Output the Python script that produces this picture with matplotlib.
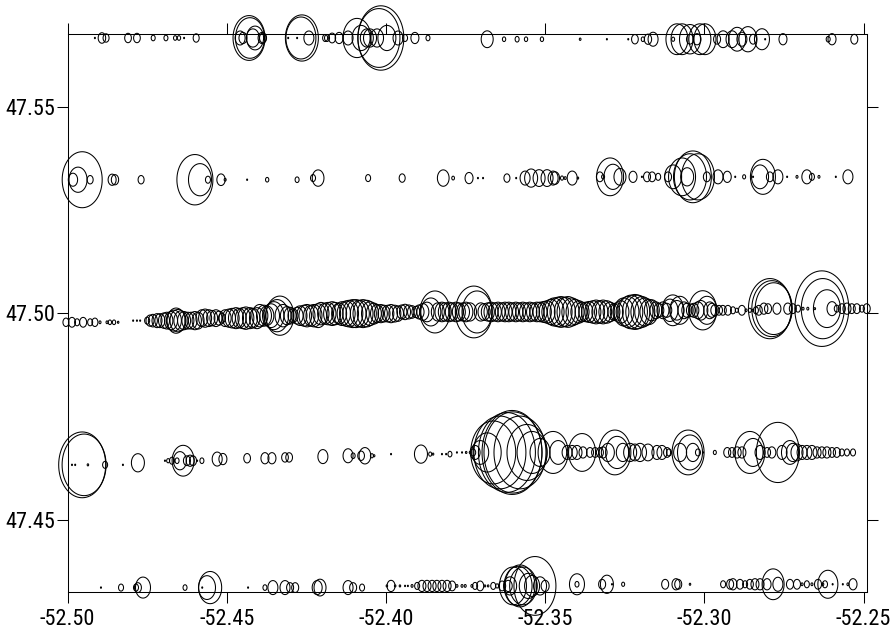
import numpy as np
import matplotlib
matplotlib.use("Agg")
import matplotlib.pyplot as plt
from matplotlib.path import Path
from matplotlib import font_manager

# ---- survey transects: position (lon, lat) and catch index per station ----
t1_lon = [-52.4914, -52.4892, -52.4879, -52.4810, -52.4782, -52.4731, -52.4691, -52.4662, -52.4650, -52.4634,
          -52.4596, -52.4458, -52.4449, -52.4430, -52.4427, -52.4418, -52.4411, -52.4389, -52.4386, -52.4307,
          -52.4279, -52.4264, -52.4267, -52.4242, -52.4191, -52.4185, -52.4169, -52.4147, -52.4119, -52.4091,
          -52.4078, -52.4060, -52.4050, -52.4028, -52.4022, -52.4016, -52.3997, -52.3962, -52.3940, -52.3909,
          -52.3868, -52.3682, -52.3629, -52.3588, -52.3560, -52.3510, -52.3390, -52.3306, -52.3239,
          -52.3218, -52.3193, -52.3177, -52.3161, -52.3098, -52.3086, -52.3070, -52.3045, -52.3045, -52.3023,
          -52.3014, -52.2998, -52.2960, -52.2941, -52.2913, -52.2897, -52.2882, -52.2863, -52.2847, -52.2819,
          -52.2809, -52.2753, -52.2611, -52.2599, -52.2529]
t1_lat = [47.5666] * 41 + [47.5663] * 33
t1_val = [1, 7.5, 6, 6.7, 6.7, 4, 4, 3.3, 3.3, 1,
          6, 10, 8, 32, 29, 13, 17, 8, 7, 1,
          1, 33, 30, 10, 5, 5, 7, 8, 10, 28,
          18, 13, 13, 13, 42, 46, 18, 10, 5, 8,
          4, 12, 3.3, 4, 3.3, 3.3, 1.7, 1, 1,
          6.7, 3.3, 7.3, 10, 3, 22, 22, 21, 7, 8,
          22, 22, 7, 12, 12, 17, 10, 18, 7, 15,
          1, 8, 4, 8, 7]

t2_lon = [-52.4983, -52.4967, -52.4954, -52.4929, -52.4860, -52.4851, -52.4769, -52.4600, -52.4584, -52.4559,
          -52.4518, -52.4505, -52.4436, -52.4373, -52.4279, -52.4229, -52.4213, -52.4056, -52.3949, -52.3820,
          -52.3789, -52.3739, -52.3711, -52.3695, -52.3620, -52.3591, -52.3563, -52.3544, -52.3519, -52.3494,
          -52.3475, -52.3469, -52.3447, -52.3437, -52.3415, -52.3397, -52.3328, -52.3318, -52.3296, -52.3287,
          -52.3265, -52.3224, -52.3196, -52.3180, -52.3164, -52.3145, -52.3114, -52.3098, -52.3070, -52.3054,
          -52.3045, -52.3036, -52.3020, -52.2992, -52.2957, -52.2928, -52.2903, -52.2875, -52.2847, -52.2825,
          -52.2816, -52.2794, -52.2769, -52.2740, -52.2709, -52.2678, -52.2662, -52.2640, -52.2587, -52.2549]
t2_lat = [47.5323] * 15 + [47.5327] * 21 + [47.5330] * 34
t2_val = [9.3, 18, 40, 6, 8, 7.3, 6, 36, 23, 5,
          8.3, 2, 1, 3.3, 4, 5, 11.7, 5, 6, 11.7,
          2.7, 8, 1, 1, 6, 1, 10, 13, 12, 12,
          10, 9, 3, 2, 10, 1.5, 7, 3, 27, 18,
          12, 8, 1, 7, 7, 5, 7, 17, 27, 13,
          33, 37, 33, 7, 10, 8, 1, 3, 1, 17,
          25, 7, 10, 1, 2, 10, 5, 2, 1, 10]

t3_lon = [-52.5005, -52.4986, -52.4970, -52.4951, -52.4929, -52.4914, -52.4898, -52.4876, -52.4867, -52.4854,
          -52.4841, -52.4794, -52.4782, -52.4772, -52.4750,
          -52.4741, -52.4732, -52.4719, -52.4710, -52.4697, -52.4688, -52.4675, -52.4666, -52.4659, -52.4653,
          -52.4644, -52.4634, -52.4622, -52.4612, -52.4600, -52.4590, -52.4578, -52.4568, -52.4556, -52.4546,
          -52.4534, -52.4524, -52.4515, -52.4505, -52.4493, -52.4483, -52.4471, -52.4461, -52.4449, -52.4440,
          -52.4427, -52.4418, -52.4405, -52.4396, -52.4383, -52.4374, -52.4361, -52.4352, -52.4342, -52.4333,
          -52.4323, -52.4311, -52.4301, -52.4292, -52.4279, -52.4270, -52.4257, -52.4248, -52.4235, -52.4226,
          -52.4213, -52.4204, -52.4191, -52.4182, -52.4169, -52.4160, -52.4147, -52.4138, -52.4125, -52.4116,
          -52.4104, -52.4094, -52.4082, -52.4072, -52.4060, -52.4050, -52.4038, -52.4028, -52.4016, -52.4006,
          -52.3994, -52.3984, -52.3972, -52.3962, -52.3950, -52.3940, -52.3928, -52.3918, -52.3906, -52.3896,
          -52.3884, -52.3871, -52.3859, -52.3846, -52.3837, -52.3824, -52.3815, -52.3802, -52.3793, -52.3780,
          -52.3771, -52.3758, -52.3749, -52.3736, -52.3724, -52.3714, -52.3702, -52.3692, -52.3680, -52.3670,
          -52.3658, -52.3648, -52.3636, -52.3626, -52.3614, -52.3604, -52.3592, -52.3582, -52.3570, -52.3560,
          -52.3548, -52.3538, -52.3526, -52.3516, -52.3504, -52.3494, -52.3482, -52.3472, -52.3460, -52.3450,
          -52.3438, -52.3428, -52.3416, -52.3406, -52.3394, -52.3384, -52.3372, -52.3362, -52.3350, -52.3340,
          -52.3328, -52.3318, -52.3306, -52.3296, -52.3284, -52.3275, -52.3262, -52.3253, -52.3240, -52.3231,
          -52.3218, -52.3209, -52.3196, -52.3187, -52.3174, -52.3165, -52.3152, -52.3143, -52.3130, -52.3118,
          -52.3108, -52.3099, -52.3086, -52.3077, -52.3064, -52.3055, -52.3042, -52.3033, -52.3020, -52.3011,
          -52.3005, -52.2992, -52.2983, -52.2976, -52.2967, -52.2954, -52.2942, -52.2926, -52.2910, -52.2898,
          -52.2882, -52.2869, -52.2857, -52.2848, -52.2838, -52.2829, -52.2813, -52.2800, -52.2794, -52.2788,
          -52.2782, -52.2772, -52.2738, -52.2722, -52.2706, -52.2690, -52.2675, -52.2653, -52.2631, -52.2628,
          -52.2615, -52.2599, -52.2584, -52.2568, -52.2552, -52.2537, -52.2521, -52.2505, -52.2490]
t3_val = [6, 7, 5, 7, 5, 6, 2, 2, 3.3, 3.3,
          1.5, 1, 1, 1, 5,
          8, 9, 10, 10, 11, 12, 13, 15, 18, 16,
          14, 13, 12, 12, 13, 12, 12, 13, 12, 11,
          12, 10, 7, 12, 13, 14, 15, 14, 15, 16,
          15, 14, 15, 16, 15, 14, 17, 20, 23, 28,
          16, 13, 12, 10, 12, 14, 15, 16, 15, 16,
          17, 16, 15, 16, 17, 16, 15, 17, 18, 19,
          20, 20, 19, 20, 19, 17, 15, 13, 13, 12,
          12, 13, 12, 11, 10, 11, 10, 9, 8, 10,
          12, 14, 20, 30, 13, 14, 13, 14, 13, 14,
          13, 13, 14, 13, 37, 30, 13, 12, 13, 14,
          13, 14, 13, 14, 14, 13, 14, 13, 14, 13,
          14, 13, 14, 14, 15, 16, 18, 20, 21, 22,
          21, 22, 20, 18, 16, 14, 14, 15, 16, 17,
          16, 17, 16, 14, 12, 13, 16, 20, 22, 24,
          25, 24, 22, 20, 18, 15, 12, 10, 12, 10,
          16, 22, 14, 20, 12, 10, 9, 10, 12, 14,
          28, 20, 12, 10, 8, 7, 7, 7, 5, 3,
          7, 2, 3, 1.5, 5, 7, 8, 7, 43, 40,
          37, 8, 8, 7, 5, 2, 2, 1.5, 54, 43,
          27, 10, 5, 7, 8, 7, 7, 5, 7]
t3_lat = ([47.4978] * 11 + [47.4982] * 20 + [47.4988] * 17 + [47.4994] * 18 + [47.4999] * 23
          + [47.5003] * 71 + [47.5007] * 31 + [47.5011] * 23)

t4_lon = [-52.4954, -52.4948, -52.4986, -52.4976, -52.4936, -52.4882, -52.4826, -52.4779, -52.4694, -52.4684,
          -52.4672, -52.4656, -52.4647, -52.4637, -52.4625, -52.4615, -52.4606, -52.4593, -52.4578, -52.4530,
          -52.4512, -52.4436, -52.4380, -52.4358, -52.4317, -52.4304, -52.4198, -52.4119, -52.4103, -52.4078,
          -52.4066, -52.4044, -52.4037, -52.3984, -52.3890, -52.3861, -52.3852, -52.3824, -52.3811, -52.3799,
          -52.3777, -52.3761, -52.3748, -52.3736, -52.3726, -52.3720, -52.3704, -52.3682, -52.3663, -52.3642,
          -52.3620, -52.3604, -52.3601, -52.3579, -52.3557, -52.3541, -52.3516, -52.3475, -52.3459, -52.3431,
          -52.3415, -52.3400, -52.3384, -52.3381, -52.3359, -52.3343, -52.3328, -52.3318, -52.3303, -52.3281,
          -52.3274, -52.3256, -52.3233, -52.3218, -52.3202, -52.3177, -52.3149, -52.3133, -52.3117, -52.3111,
          -52.3076, -52.3051, -52.3045, -52.3036, -52.3020, -52.3004, -52.2967, -52.2928, -52.2913, -52.2897,
          -52.2882, -52.2857, -52.2847, -52.2825, -52.2803, -52.2788, -52.2769, -52.2756, -52.2731, -52.2722,
          -52.2709, -52.2693, -52.2678, -52.2662, -52.2646, -52.2631, -52.2615, -52.2599, -52.2584, -52.2568,
          -52.2552, -52.2533]
t4_val = [47, 44, 1, 1, 1.5, 5, 1, 13, 1, 3,
          5, 4, 13, 22, 7, 8, 7, 1, 4, 10,
          8, 6.7, 8, 8, 6.7, 6.7, 10, 10, 4, 6.7,
          11.7, 3, 1.5, 1, 13, 3, 1.5, 1, 1, 4,
          1, 1, 1.5, 1.5, 5, 10, 17, 28, 45, 52,
          57, 60, 58, 52, 40, 30, 20, 30, 17, 10,
          10, 10, 27, 8, 7, 7, 7, 8, 13, 32,
          23, 13, 13, 12, 13, 12, 10, 10, 7, 5,
          13, 32, 25, 13, 5, 1, 3, 7, 7, 8,
          8, 30, 20, 10, 7, 8, 43, 10, 17, 13,
          12, 10, 10, 10, 8, 8, 8, 7, 7, 5,
          5, 5]
t4_lat = ([47.4633] * 7 + [47.4638] * 1 + [47.4643] * 11 + [47.4647] * 2 + [47.4649] * 3
          + [47.4651] * 2 + [47.4653] * 1 + [47.4655] * 6 + [47.4659] * 7 + [47.4663] * 72)

t5_lon = [-52.4895, -52.4832, -52.4785, -52.4779, -52.4763, -52.4631, -52.4562, -52.4552, -52.4577, -52.4433,
          -52.4380, -52.4355, -52.4317, -52.4301, -52.4285, -52.4216, -52.4207, -52.4119, -52.4103, -52.4075,
          -52.3997, -52.3984, -52.3971, -52.3956, -52.3940, -52.3931, -52.3918, -52.3902, -52.3887, -52.3871,
          -52.3855, -52.3840, -52.3824, -52.3808, -52.3792, -52.3777, -52.3761, -52.3751, -52.3730, -52.3720,
          -52.3704, -52.3689, -52.3679, -52.3663, -52.3651, -52.3635, -52.3616, -52.3610, -52.3601, -52.3585,
          -52.3579, -52.3569, -52.3553, -52.3541, -52.3532, -52.3516, -52.3500, -52.3400, -52.3400, -52.3321,
          -52.3306, -52.3290, -52.3255, -52.3123, -52.3089, -52.3082, -52.3045, -52.2941, -52.2919, -52.2910,
          -52.2888, -52.2872, -52.2857, -52.2841, -52.2825, -52.2803, -52.2784, -52.2769, -52.2731, -52.2709,
          -52.2693, -52.2678, -52.2662, -52.2643, -52.2628, -52.2612, -52.2621, -52.2597, -52.2565, -52.2549,
          -52.2533]
t5_val = [1, 5, 5, 7, 15, 4, 17, 23, 1, 1,
          4, 10, 10, 7, 7, 10, 12, 10, 7, 5,
          1.5, 8, 1.5, 1.5, 1, 1, 2, 5, 8, 8,
          8, 8, 8, 8, 7, 2, 2, 2, 2, 5,
          7, 1.5, 1.5, 5, 3, 7, 8, 13, 27, 28,
          30, 27, 18, 15, 42, 13, 8, 15, 4, 7,
          13, 1, 3, 7, 8, 7, 1.5, 5, 7, 8,
          7, 5, 7, 8, 8, 8, 22, 10, 7, 7,
          2, 5, 2, 7, 2, 20, 5, 1, 1, 2,
          8]
t5_lat = [47.4336] * 20 + [47.4340] * 37 + [47.4344] * 34

# x / y axis ticks
x_ticks = [-52.50, -52.45, -52.40, -52.35, -52.30, -52.25]
y_ticks = [47.45, 47.50, 47.55]

# ---- styling: a narrow sans face for the tick labels when one is installed ----
available = {f.name for f in font_manager.fontManager.ttflist}
narrow_faces = [("Liberation Sans Narrow", 17.5), ("Arial Narrow", 17.5), ("Roboto Condensed", 16)]
family, label_size = ["Liberation Sans", "DejaVu Sans"], 14
for name, size in narrow_faces:
    if name in available:
        family, label_size = [name, "Liberation Sans", "DejaVu Sans"], size
        break
plt.rcParams["font.family"] = family
plt.rcParams["axes.unicode_minus"] = False

# an upright ellipse used as the bubble outline (height : width = 1.4)
ASPECT = 1.4
theta = np.linspace(0, 2 * np.pi, 73)
ellipse = Path(np.column_stack([np.cos(theta) / ASPECT, np.sin(theta)]), closed=True)

fig = plt.figure(figsize=(8.91, 6.37), dpi=100)
ax = fig.add_axes([0.0758, 0.0711, 0.9731 - 0.0758, 0.9462 - 0.0711])

POINT_PER_UNIT = 0.72 * ASPECT   # bubble height in points per catch unit


def bubbles(lon, lat, val):
    v = np.asarray(val, dtype=float)
    ax.scatter(lon, lat, s=(v * POINT_PER_UNIT) ** 2, marker=ellipse,
               facecolors="none", edgecolors="black", linewidths=0.75, clip_on=False)


bubbles(t1_lon, t1_lat, t1_val)
bubbles(t2_lon, t2_lat, t2_val)
bubbles(t3_lon, t3_lat, t3_val)
bubbles(t4_lon, t4_lat, t4_val)
bubbles(t5_lon, t5_lat, t5_val)

ax.set_xlim(-52.50, -52.2489)
ax.set_ylim(47.4326, 47.5675)
ax.set_xticks(x_ticks)
ax.set_xticklabels([f"{t:.2f}" for t in x_ticks])
ax.set_yticks(y_ticks)
ax.set_yticklabels([f"{t:.2f}" for t in y_ticks])
ax.tick_params(direction="out", length=8, width=0.75, labelsize=label_size,
               top=True, right=True, labeltop=False, labelright=False)
ax.tick_params(axis="y", pad=0.5)
ax.tick_params(axis="x", pad=4.5)
for sp in ax.spines.values():
    sp.set_linewidth(0.75)

fig.savefig("out.png", dpi=100)
